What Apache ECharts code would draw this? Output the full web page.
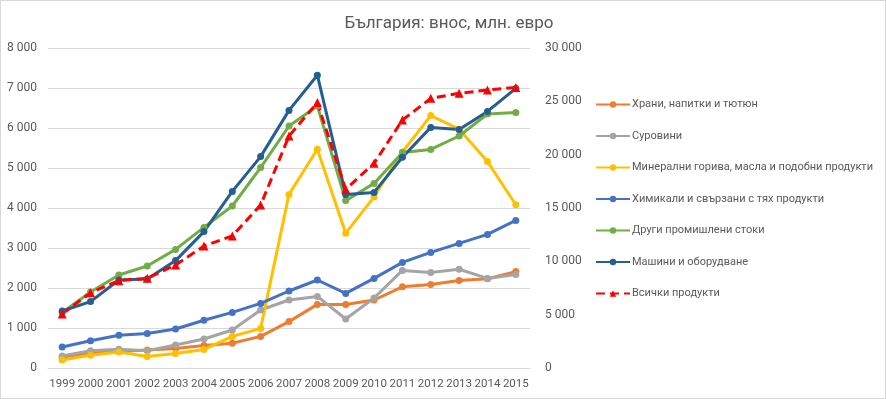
<!DOCTYPE html>
<html>
<head>
<meta charset="utf-8">
<script src="https://cdn.jsdelivr.net/npm/echarts@6/dist/echarts.min.js"></script>
<style>
  html, body { margin: 0; padding: 0; background: #fff; }
  #chart { width: 884px; height: 397px; border: 1px solid #d9d9d9; }
</style>
</head>
<body>
<div id="chart"></div>
<script>
const years = ["1999", "2000", "2001", "2002", "2003", "2004", "2005", "2006", "2007",
  "2008", "2009", "2010", "2011", "2012", "2013", "2014", "2015"];

const food = [270, 380, 410, 450, 490, 560, 620, 790, 1160, 1590, 1590, 1700, 2030, 2090, 2190, 2230, 2410];
const rawMaterials = [300, 430, 470, 430, 575, 725, 950, 1450, 1700, 1790, 1225, 1750, 2440, 2385, 2470, 2240, 2340];
const fuels = [200, 320, 400, 285, 365, 465, 790, 990, 4340, 5470, 3370, 4280, 5400, 6310, 5970, 5160, 4080];
const chemicals = [525, 680, 820, 865, 975, 1195, 1390, 1615, 1925, 2200, 1865, 2240, 2640, 2890, 3115, 3340, 3690];
const otherGoods = [1390, 1900, 2325, 2550, 2965, 3515, 4050, 5010, 6050, 6550, 4185, 4615, 5390, 5465, 5800, 6350, 6385];
const machinery = [1425, 1660, 2200, 2225, 2685, 3410, 4415, 5285, 6440, 7320, 4340, 4390, 5270, 6015, 5965, 6415, 6990];
const allProducts = [5060, 7060, 8190, 8410, 9660, 11440, 12380, 15280, 21750, 24880, 16750, 19190, 23250, 25280, 25750, 26060, 26300];

const seriesNames = [
  "Храни, напитки и тютюн",
  "Суровини",
  "Минерални горива, масла и подобни продукти",
  "Химикали и свързани с тях продукти",
  "Други промишлени стоки",
  "Машини и оборудване",
  "Всички продукти"
];
const colors = ["#ED7D31", "#A5A5A5", "#FFC000", "#4472C4", "#70AD47", "#255E91", "#FF0000"];

const textColor = "#595959";
const font = "Roboto";

function spaced(value) {
  return String(value).replace(/\B(?=(\d{3})+(?!\d))/g, " ");
}

function lineSeries(index, data) {
  return {
    type: "line",
    name: seriesNames[index],
    data: data,
    yAxisIndex: 0,
    symbol: "circle",
    symbolSize: 7,
    lineStyle: { width: 3, color: colors[index] },
    itemStyle: { color: colors[index] }
  };
}

const chart = echarts.init(document.getElementById("chart"), null, { renderer: "canvas" });
chart.setOption({
  animation: false,
  color: colors,
  textStyle: { fontFamily: font },
  title: {
    text: "България: внос, млн. евро",
    left: 443,
    textAlign: "center",
    top: 9,
    textStyle: { color: textColor, fontSize: 17, fontWeight: "normal", fontFamily: font }
  },
  grid: { left: 47, right: 355, top: 47, bottom: 30 },
  legend: {
    orient: "vertical",
    left: 589,
    top: 93,
    itemGap: 20.5,
    itemWidth: 34,
    itemHeight: 8,
    textStyle: { color: textColor, fontSize: 11, fontFamily: font, padding: [0, 0, 0, -3] },
    data: seriesNames
  },
  xAxis: {
    type: "category",
    data: years,
    boundaryGap: true,
    axisLine: { lineStyle: { color: "#d9d9d9", width: 1 } },
    axisTick: { show: false },
    axisLabel: { color: textColor, fontSize: 11.5, margin: 10, interval: 0 }
  },
  yAxis: [
    {
      type: "value",
      min: 0,
      max: 8000,
      interval: 1000,
      axisLine: { show: false },
      axisTick: { show: false },
      splitLine: { lineStyle: { color: "#d9d9d9" } },
      axisLabel: { color: textColor, fontSize: 12, margin: 11, formatter: spaced }
    },
    {
      type: "value",
      min: 0,
      max: 30000,
      interval: 5000,
      position: "right",
      axisLine: { show: false },
      axisTick: { show: false },
      splitLine: { show: false },
      axisLabel: { color: textColor, fontSize: 12, margin: 15, formatter: spaced }
    }
  ],
  series: [
    lineSeries(0, food),
    lineSeries(1, rawMaterials),
    lineSeries(2, fuels),
    lineSeries(3, chemicals),
    lineSeries(4, otherGoods),
    lineSeries(5, machinery),
    {
      type: "line",
      name: seriesNames[6],
      data: allProducts,
      yAxisIndex: 1,
      symbol: "triangle",
      symbolSize: 9,
      z: 3,
      lineStyle: { width: 3, color: colors[6], type: [9, 5] },
      itemStyle: { color: colors[6] }
    }
  ]
});
</script>
</body>
</html>
